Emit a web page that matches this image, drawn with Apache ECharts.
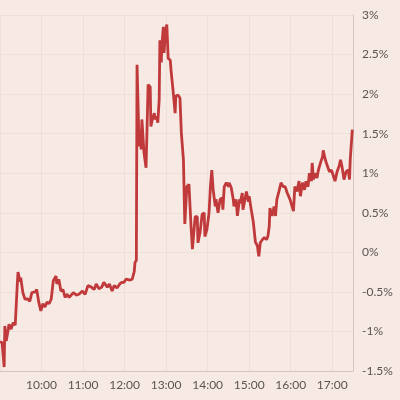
<!DOCTYPE html>
<html>
<head>
<meta charset="utf-8">
<script src="https://cdn.jsdelivr.net/npm/echarts@6/dist/echarts.min.js"></script>
<style>
  html, body { margin: 0; padding: 0; background: #f7e9e3; }
  #chart { width: 400px; height: 400px; }
</style>
</head>
<body>
<div id="chart"></div>
<script>
// intraday move, percent
var times = [
  "09:00","09:03","09:06","09:07","09:09","09:12","09:13","09:16","09:19","09:22",
  "09:25","09:26","09:29","09:30","09:33","09:36","09:40","09:43","09:46","09:51",
  "09:53","09:56","09:59","10:02","10:05","10:08","10:11","10:14","10:17","10:21",
  "10:22","10:25","10:28","10:31","10:34","10:37","10:40","10:46","10:50","10:54",
  "10:59","11:03","11:07","11:12","11:16","11:19","11:23","11:27","11:30","11:35",
  "11:38","11:42","11:45","11:49","11:53","11:56","11:59","12:02","12:08","12:11",
  "12:14","12:15","12:17","12:18","12:21","12:22","12:24","12:25","12:28","12:31",
  "12:33","12:34","12:37","12:38","12:40","12:43","12:44","12:46","12:48","12:50",
  "12:51","12:53","12:54","12:56","12:57","12:59","13:01","13:03","13:06","13:07",
  "13:09","13:10","13:13","13:14","13:17","13:20","13:22","13:25","13:27","13:30",
  "13:33","13:36","13:38","13:40","13:42","13:45","13:46","13:49","13:52","13:55",
  "13:56","13:59","14:02","14:04","14:06","14:08","14:11","14:12","14:15","14:18",
  "14:21","14:22","14:24","14:27","14:30","14:31","14:34","14:37","14:38","14:41",
  "14:43","14:46","14:47","14:50","14:51","14:54","14:56","14:59","15:00","15:03",
  "15:06","15:09","15:12","15:13","15:14","15:16","15:19","15:22","15:25","15:27",
  "15:29","15:30","15:33","15:36","15:38","15:40","15:43","15:46","15:49","15:52",
  "15:55","15:59","16:04","16:06","16:09","16:12","16:14","16:17","16:20","16:22",
  "16:25","16:27","16:30","16:31","16:33","16:35","16:38","16:40","16:43","16:46",
  "16:47","16:50","16:53","16:56","16:59","17:01","17:04","17:07","17:10","17:12",
  "17:14","17:17","17:20","17:23","17:25","17:26","17:29"
];
var change = [
  -1.13,-1.14,-1.45,-0.93,-1.12,-0.97,-0.91,-0.97,-0.89,-0.92,
  -0.40,-0.25,-0.37,-0.32,-0.51,-0.59,-0.59,-0.62,-0.51,-0.50,
  -0.47,-0.63,-0.74,-0.65,-0.69,-0.63,-0.65,-0.59,-0.36,-0.30,
  -0.40,-0.34,-0.49,-0.47,-0.57,-0.53,-0.57,-0.51,-0.54,-0.53,
  -0.49,-0.53,-0.42,-0.44,-0.47,-0.40,-0.46,-0.44,-0.38,-0.44,
  -0.40,-0.49,-0.42,-0.45,-0.40,-0.38,-0.38,-0.34,-0.35,-0.34,
  -0.24,-0.13,-0.10,2.37,1.34,1.55,1.30,1.68,1.26,1.07,
  1.76,2.12,2.09,1.59,1.68,1.76,1.68,1.72,1.64,1.93,
  2.68,2.40,2.64,2.85,2.52,2.78,2.88,2.45,2.43,2.31,
  2.33,2.05,1.76,1.97,1.99,1.95,1.51,1.17,0.36,0.83,
  0.86,0.33,0.04,0.25,0.45,0.45,0.12,0.25,0.48,0.50,
  0.20,0.29,0.50,0.83,1.04,0.79,0.58,0.67,0.50,0.67,
  0.69,0.54,0.83,0.88,0.83,0.88,0.82,0.67,0.58,0.67,
  0.46,0.67,0.62,0.75,0.54,0.67,0.77,0.64,0.71,0.54,
  0.38,0.13,0.08,0.00,-0.05,0.12,0.16,0.19,0.16,0.20,
  0.33,0.56,0.46,0.58,0.46,0.67,0.77,0.88,0.83,0.83,
  0.75,0.67,0.52,0.83,0.77,0.90,0.71,0.88,0.79,0.90,
  0.83,1.00,0.90,1.13,0.92,1.00,0.94,1.04,1.13,1.21,
  1.29,1.17,1.09,1.02,1.04,1.02,0.90,1.02,1.09,1.17,
  1.09,0.92,1.02,1.04,0.92,1.17,1.55
];

// minutes since 09:00
function toMin(t) {
  var p = t.split(":");
  return (+p[0] - 9) * 60 + (+p[1]);
}
function fmtHour(m) {
  var h = 9 + Math.round(m / 60);
  return (h < 10 ? "0" : "") + h + ":00";
}

var seriesData = times.map(function (t, i) {
  return [toMin(t), change[i]];
});

var chart = echarts.init(document.getElementById("chart"));
var option = {
  backgroundColor: "#f7e9e3",
  animation: false,
  grid: {
    left: 0,
    right: 47,
    top: 15,
    bottom: 29,
    containLabel: false,
    outerBoundsMode: "none"
  },
  xAxis: {
    type: "value",
    min: 0,
    max: 510,
    interval: 60,
    axisLine: { show: true, onZero: false, lineStyle: { color: "#d3c6c0", width: 1 } },
    axisTick: { show: false },
    splitLine: { show: true, lineStyle: { color: "#ede0d7", width: 1 } },
    axisLabel: {
      showMinLabel: false,
      showMaxLabel: false,
      color: "#5a5552",
      fontFamily: "Lato",
      fontSize: 12,
      margin: 8,
      formatter: function (v) { return fmtHour(v); }
    }
  },
  yAxis: {
    type: "value",
    position: "right",
    min: -1.5,
    max: 3,
    interval: 0.5,
    axisLine: { show: true, onZero: false, lineStyle: { color: "#d3c6c0", width: 1 } },
    axisTick: { show: false },
    splitLine: { show: true, lineStyle: { color: "#ede0d7", width: 1 } },
    axisLabel: {
      color: "#5a5552",
      fontFamily: "Lato",
      fontSize: 12,
      margin: 9,
      formatter: function (v) { return v + "%"; }
    }
  },
  series: [
    {
      type: "line",
      data: seriesData,
      showSymbol: false,
      lineStyle: { color: "#c0393b", width: 2.8 },
      z: 3
    }
  ]
};
chart.setOption(option);
</script>
</body>
</html>
